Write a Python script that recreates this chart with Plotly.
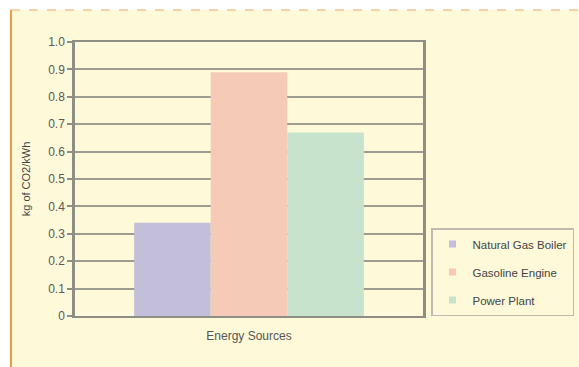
import plotly.graph_objects as go

categories = ["Energy Sources"]
series_names = ["Natural Gas Boiler", "Gasoline Engine", "Power Plant"]
series_values = [[0.34], [0.89], [0.67]]
colors = ["#C3BFDA", "#F5CAB6", "#C8E3CC"]
y_ticks = [0, 0.1, 0.2, 0.3, 0.4, 0.5, 0.6, 0.7, 0.8, 0.9, 1.0]
y_tick_labels = ["0", "0.1", "0.2", "0.3", "0.4", "0.5", "0.6", "0.7", "0.8", "0.9", "1.0"]

W, H = 579, 367
L, R, T, B = 75, 423, 42, 316

fig = go.Figure()
for name, vals, c in zip(series_names, series_values, colors):
    fig.add_trace(go.Bar(x=categories, y=vals, name=name, showlegend=False,
                         marker=dict(color=c, line=dict(width=0))))
# legend entries with small square swatches
for name, c in zip(series_names, colors):
    fig.add_trace(go.Scatter(x=[None], y=[None], mode="markers", name=name, legendgroup=name,
                             marker=dict(symbol="square", size=7, color=c), showlegend=True))

def px(x):
    return (x - L) / (R - L)

def py(y):
    return (B - y) / (B - T)

shapes = [
    dict(type="rect", xref="paper", yref="paper", x0=px(11), x1=px(579), y0=py(367), y1=py(10),
         fillcolor="#FEF9D9", line=dict(width=0), layer="below"),
    dict(type="line", xref="paper", yref="paper", x0=px(11), x1=px(579), y0=py(10), y1=py(10),
         line=dict(color="#F0A860", width=1.2, dash="dash")),
    dict(type="line", xref="paper", yref="paper", x0=px(11), x1=px(11), y0=py(367), y1=py(10),
         line=dict(color="#F39A3C", width=2)),
]

fig.update_layout(
    width=W, height=H,
    margin=dict(l=L, r=W - R, t=T, b=H - B, autoexpand=False),
    paper_bgcolor="white",
    plot_bgcolor="#FEF9D9",
    barmode="group",
    bargap=0.34,
    bargroupgap=0,
    font=dict(family="Liberation Sans, Arial", color="#555555", size=12),
    shapes=shapes,
    showlegend=True,
    legend=dict(
        xref="container", yref="container",
        x=431 / W, y=1 - 228 / H, xanchor="left", yanchor="top",
        bgcolor="#FEF9D9", bordercolor="#BDBBB0", borderwidth=1.5,
        font=dict(size=11.5, color="#444444"),
        itemwidth=30, tracegroupgap=9,
    ),
    xaxis=dict(
        showticklabels=False, ticks="", showline=True, linecolor="#8E8E84", linewidth=2,
        mirror=True, title=dict(text="Energy Sources", standoff=15, font=dict(size=12, color="#555555")),
    ),
    yaxis=dict(
        range=[0, 1.0], tickvals=y_ticks, ticktext=y_tick_labels,
        showgrid=True, gridcolor="#9C9C90", gridwidth=1.5,
        showline=True, linecolor="#8E8E84", linewidth=2.5, mirror=True,
        ticks="outside", ticklen=5, tickcolor="#8E8E84", tickwidth=1.5,
        tickfont=dict(size=12, color="#5A5A5A"),
        title=dict(text="kg of CO2/kWh", standoff=16, font=dict(size=11, color="#444444")),
        zeroline=False,
    ),
)

fig.write_html("out.html")
